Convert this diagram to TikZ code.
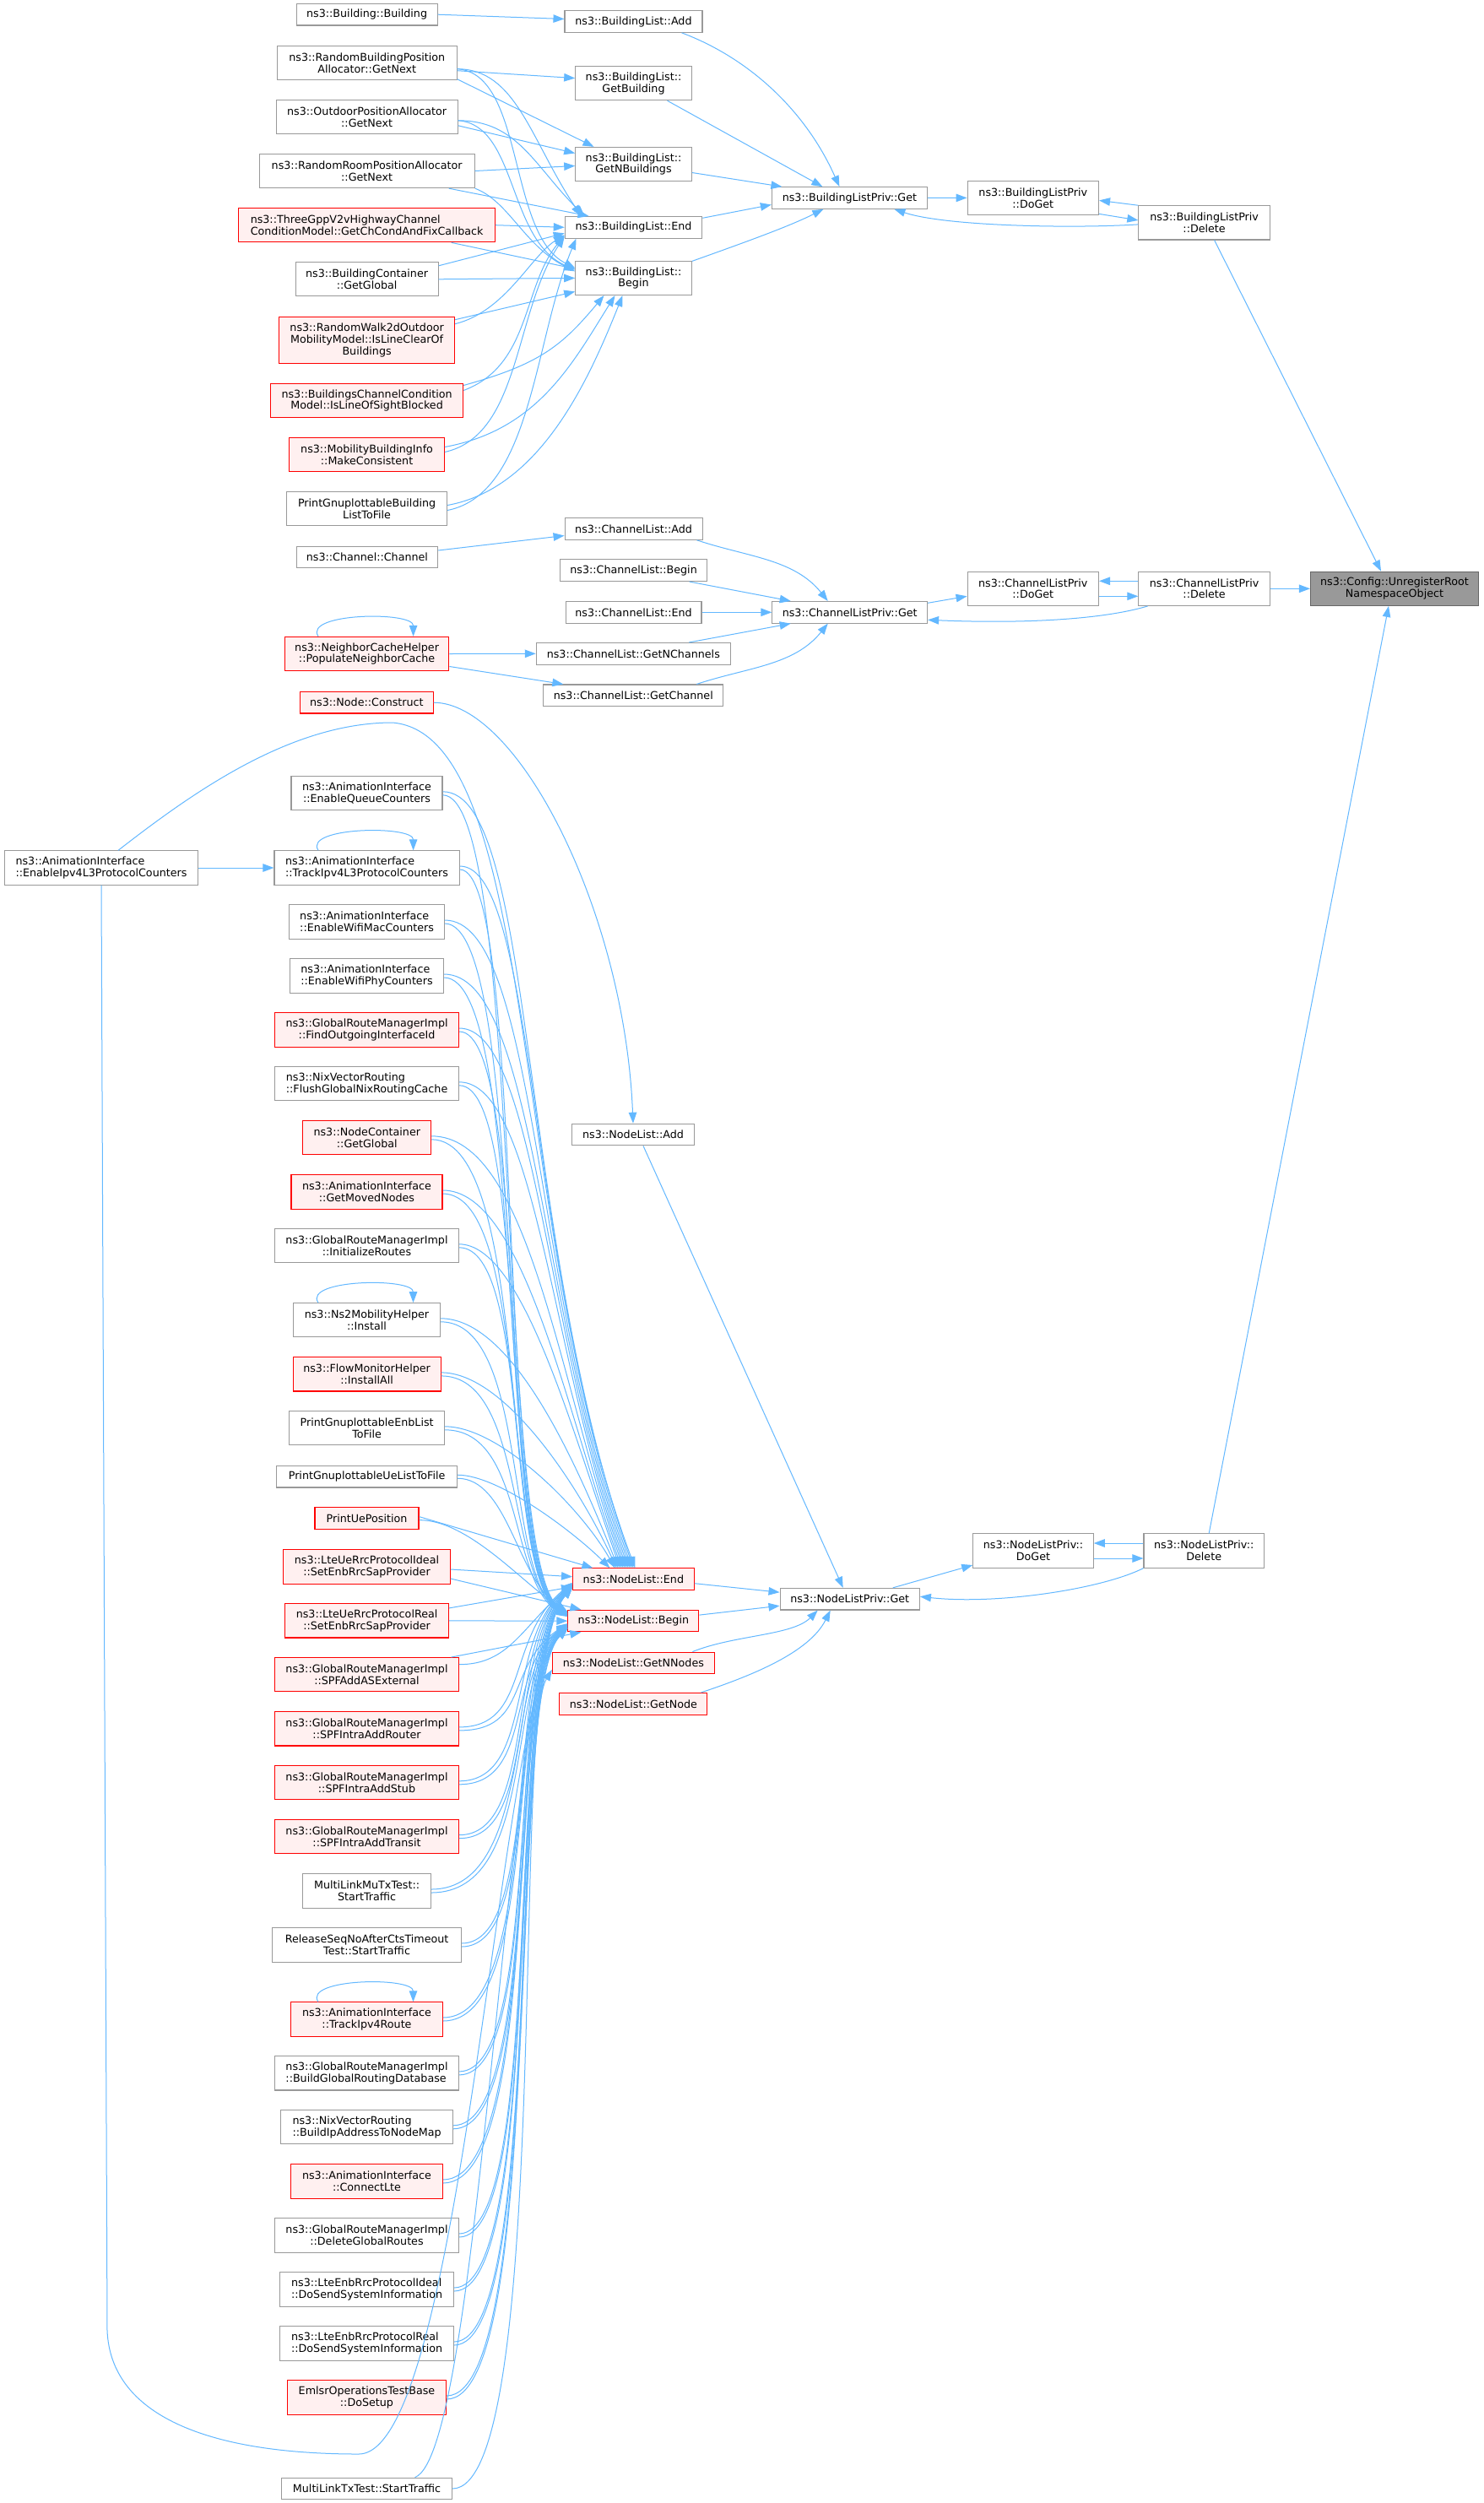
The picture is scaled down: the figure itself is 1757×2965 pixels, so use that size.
\documentclass[tikz,border=0pt]{standalone}
\usepackage{fontspec}
\setmainfont{DejaVu Sans}
\usetikzlibrary{arrows.meta,calc}
\definecolor{edgec}{HTML}{63B8FF}
\definecolor{nbord}{HTML}{999999}
\definecolor{rbord}{HTML}{FF0000}
\definecolor{rfill}{HTML}{FFF0F0}
\definecolor{rootfill}{HTML}{999999}
\definecolor{rootbord}{HTML}{666666}
\begin{document}
\begin{tikzpicture}[x=1pt,y=1pt,
  box/.style={draw=nbord, fill=white, line width=1.1pt, font=\fontsize{12.7pt}{13.8pt}\selectfont, inner xsep=3pt, inner ysep=1pt, align=center, text=black},
  one/.style={box, minimum height=25.6pt},
  two/.style={box, minimum height=40.2pt},
  three/.style={box, minimum height=55pt},
  rnode/.style={draw=rbord, fill=rfill},
  lft/.style={align=left},
  rootnode/.style={fill=rootfill, draw=rootbord},
  e/.style={draw=edgec, line width=1pt, -{Triangle[length=13pt,width=9.5pt]}}
]
\useasboundingbox (0,0) rectangle (1757,-2965);
\fill[white] (0,0) rectangle (1757,-2965);

% ---------------- Building part ----------------
\node[one, minimum width=167pt] (bBuilding) at (434.6,-17.2) {ns3::Building::Building};
\node[one, minimum width=163pt] (blAdd) at (750.5,-25.5) {ns3::BuildingList::Add};
\node[two, minimum width=212.5pt] (rbpa) at (434.8,-74.7) {ns3::RandomBuildingPosition\\Allocator::GetNext};
\node[two, minimum width=137.5pt] (blGetBuilding) at (750.5,-98.6) {ns3::BuildingList::\\GetBuilding};
\node[two, minimum width=215pt] (opa) at (434.6,-138.8) {ns3::OutdoorPositionAllocator\\::GetNext};
\node[two, minimum width=137.5pt] (blGetN) at (750.5,-194.5) {ns3::BuildingList::\\GetNBuildings};
\node[two, minimum width=255pt] (rrpa) at (434.6,-202.5) {ns3::RandomRoomPositionAllocator\\::GetNext};
\node[two, rnode, lft, minimum width=303.6pt] (tgpp) at (434.6,-266.7) {ns3::ThreeGppV2vHighwayChannel\\ConditionModel::GetChCondAndFixCallback};
\node[one, minimum width=162.5pt] (blEnd) at (750.5,-269.3) {ns3::BuildingList::End};
\node[two, minimum width=169pt] (bcGlobal) at (434.6,-330.8) {ns3::BuildingContainer\\::GetGlobal};
\node[two, minimum width=137.5pt] (blBegin) at (750.5,-329.4) {ns3::BuildingList::\\Begin};
\node[three, rnode, minimum width=208pt] (rw2d) at (434.6,-402.7) {ns3::RandomWalk2dOutdoor\\MobilityModel::IsLineClearOf\\Buildings};
\node[two, rnode, minimum width=228pt] (bccm) at (434.6,-474.5) {ns3::BuildingsChannelCondition\\Model::IsLineOfSightBlocked};
\node[two, rnode, minimum width=183.5pt] (mbi) at (434.6,-538.5) {ns3::MobilityBuildingInfo\\::MakeConsistent};
\node[two, minimum width=190pt] (pgb) at (434.6,-602.5) {PrintGnuplottableBuilding\\ListToFile};
\node[one, minimum width=184pt] (blpGet) at (1006.4,-234.5) {ns3::BuildingListPriv::Get};
\node[two, minimum width=155.4pt] (blpDoGet) at (1223.8,-234.4) {ns3::BuildingListPriv\\::DoGet};
\node[two, minimum width=155.5pt] (blpDelete) at (1426.6,-263.9) {ns3::BuildingListPriv\\::Delete};

% ---------------- Channel part ----------------
\node[one, minimum width=163pt] (clAdd) at (750.6,-626.5) {ns3::ChannelList::Add};
\node[one, minimum width=167.6pt] (chChannel) at (434.9,-660) {ns3::Channel::Channel};
\node[one, minimum width=174.5pt] (clBegin) at (750.6,-675.7) {ns3::ChannelList::Begin};
\node[one, minimum width=160.7pt] (clEnd) at (750.6,-725.3) {ns3::ChannelList::End};
\node[one, minimum width=183.7pt] (clpGet) at (1006.7,-725.3) {ns3::ChannelListPriv::Get};
\node[two, minimum width=155.4pt] (clpDoGet) at (1223.8,-697.3) {ns3::ChannelListPriv\\::DoGet};
\node[two, minimum width=155.5pt] (clpDelete) at (1426.6,-697.3) {ns3::ChannelListPriv\\::Delete};
\node[two, rootnode, minimum width=199pt] (root) at (1652,-697.3) {ns3::Config::UnregisterRoot\\NamespaceObject};
\node[two, rnode, minimum width=194.6pt] (nch) at (434.6,-774.5) {ns3::NeighborCacheHelper\\::PopulateNeighborCache};
\node[one, minimum width=230pt] (clGetN) at (750.3,-774.3) {ns3::ChannelList::GetNChannels};
\node[one, minimum width=213pt] (clGetCh) at (750.3,-823.8) {ns3::ChannelList::GetChannel};

% ---------------- Node part ----------------
\node[one, rnode, minimum width=157.3pt] (nodeConstruct) at (434.4,-832.2) {ns3::Node::Construct};
\node[two, minimum width=179pt] (eqc) at (434.5,-939.8) {ns3::AnimationInterface\\::EnableQueueCounters};
\node[two, lft, minimum width=228.6pt] (eipv4) at (120,-1028) {ns3::AnimationInterface\\::EnableIpv4L3ProtocolCounters};
\node[two, lft, minimum width=219.3pt] (tipv4) at (434.6,-1028) {ns3::AnimationInterface\\::TrackIpv4L3ProtocolCounters};
\node[two, lft, minimum width=183.6pt] (ewmac) at (434.6,-1092) {ns3::AnimationInterface\\::EnableWifiMacCounters};
\node[two, lft, minimum width=182pt] (ewphy) at (434.5,-1156) {ns3::AnimationInterface\\::EnableWifiPhyCounters};
\node[two, rnode, minimum width=218pt] (fogi) at (434.6,-1220) {ns3::GlobalRouteManagerImpl\\::FindOutgoingInterfaceId};
\node[two, lft, minimum width=218pt] (fgnrc) at (434.6,-1283.8) {ns3::NixVectorRouting\\::FlushGlobalNixRoutingCache};
\node[two, rnode, minimum width=151.8pt] (ncGlobal) at (434.8,-1347.8) {ns3::NodeContainer\\::GetGlobal};
\node[two, rnode, minimum width=179pt] (gmn) at (434.5,-1412) {ns3::AnimationInterface\\::GetMovedNodes};
\node[two, minimum width=217.5pt] (initR) at (434.5,-1475.8) {ns3::GlobalRouteManagerImpl\\::InitializeRoutes};
\node[two, minimum width=174pt] (ns2) at (434.5,-1563.8) {ns3::Ns2MobilityHelper\\::Install};
\node[two, rnode, minimum width=175pt] (fmh) at (434.6,-1627.9) {ns3::FlowMonitorHelper\\::InstallAll};
\node[two, minimum width=183.6pt] (pgEnb) at (434.6,-1691.8) {PrintGnuplottableEnbList\\ToFile};
\node[one, minimum width=213.6pt] (pgUe) at (434.6,-1749.2) {PrintGnuplottableUeListToFile};
\node[one, rnode, minimum width=123pt] (pue) at (434.5,-1798.6) {PrintUePosition};
\node[two, rnode, minimum width=197.5pt] (lteUeIdeal) at (434.5,-1856) {ns3::LteUeRrcProtocolIdeal\\::SetEnbRrcSapProvider};
\node[two, rnode, minimum width=193.6pt] (lteUeReal) at (434.6,-1919.9) {ns3::LteUeRrcProtocolReal\\::SetEnbRrcSapProvider};
\node[two, rnode, minimum width=217.5pt] (spfExt) at (434.5,-1983.7) {ns3::GlobalRouteManagerImpl\\::SPFAddASExternal};
\node[two, rnode, minimum width=217.5pt] (spfRouter) at (434.5,-2047.9) {ns3::GlobalRouteManagerImpl\\::SPFIntraAddRouter};
\node[two, rnode, minimum width=217.5pt] (spfStub) at (434.5,-2111.8) {ns3::GlobalRouteManagerImpl\\::SPFIntraAddStub};
\node[two, rnode, minimum width=217.5pt] (spfTransit) at (434.5,-2175.7) {ns3::GlobalRouteManagerImpl\\::SPFIntraAddTransit};
\node[two, minimum width=151.5pt] (mlmu) at (434.6,-2240) {MultiLinkMuTxTest::\\StartTraffic};
\node[two, minimum width=223.5pt] (rsn) at (434.6,-2304) {ReleaseSeqNoAfterCtsTimeout\\Test::StartTraffic};
\node[two, rnode, minimum width=179.6pt] (tipv4r) at (434.5,-2392) {ns3::AnimationInterface\\::TrackIpv4Route};
\node[two, lft, minimum width=217.5pt] (bgrd) at (434.5,-2455.9) {ns3::GlobalRouteManagerImpl\\::BuildGlobalRoutingDatabase};
\node[two, lft, minimum width=203.5pt] (bipa) at (434.6,-2519.8) {ns3::NixVectorRouting\\::BuildIpAddressToNodeMap};
\node[two, rnode, minimum width=179.6pt] (clte) at (434.5,-2584) {ns3::AnimationInterface\\::ConnectLte};
\node[two, minimum width=217.5pt] (dgr) at (434.5,-2648) {ns3::GlobalRouteManagerImpl\\::DeleteGlobalRoutes};
\node[two, lft, minimum width=205.7pt] (lteEnbIdeal) at (434.6,-2712) {ns3::LteEnbRrcProtocolIdeal\\::DoSendSystemInformation};
\node[two, lft, minimum width=205.7pt] (lteEnbReal) at (434.6,-2776) {ns3::LteEnbRrcProtocolReal\\::DoSendSystemInformation};
\node[two, rnode, minimum width=188pt] (emlsr) at (434.5,-2840) {EmlsrOperationsTestBase\\::DoSetup};
\node[one, minimum width=201.8pt] (mltx) at (434.5,-2948) {MultiLinkTxTest::StartTraffic};

\node[one, minimum width=145pt] (nlAdd) at (750,-1344) {ns3::NodeList::Add};
\node[one, rnode, minimum width=143.6pt] (nlEnd) at (750.4,-1870.7) {ns3::NodeList::End};
\node[one, rnode, minimum width=155pt] (nlBegin) at (750.4,-1920.1) {ns3::NodeList::Begin};
\node[one, rnode, minimum width=192pt] (nlGetNN) at (750.4,-1969.9) {ns3::NodeList::GetNNodes};
\node[one, rnode, minimum width=175pt] (nlGetNode) at (750.4,-2018.3) {ns3::NodeList::GetNode};
\node[one, minimum width=165.3pt] (nlpGet) at (1006.7,-1894.2) {ns3::NodeListPriv::Get};
\node[two, minimum width=142.4pt] (nlpDoGet) at (1224,-1837) {ns3::NodeListPriv::\\DoGet};
\node[two, minimum width=142.4pt] (nlpDelete) at (1426.2,-1837) {ns3::NodeListPriv::\\Delete};

\coordinate (etop) at (465,-856);
\coordinate (ebot) at (425,-2907);

% ================= Edges: building =================
\draw[e] (bBuilding.east) -- ([yshift=3pt]blAdd.west);
\draw[e] ([yshift=-9pt]rbpa.east) -- ([yshift=6pt]blGetBuilding.west);
\draw[e] ([yshift=-19pt]rbpa.east) -- ([xshift=-47pt]blGetN.north);
\draw[e] ([yshift=-7pt]rbpa.east) .. controls +(70,0) and +(-60,90) .. ([xshift=-62pt]blEnd.north);
\draw[e] ([yshift=-7pt]rbpa.east) .. controls +(80,-5) and +(-80,40) .. ([yshift=12pt]blBegin.west);
\draw[e] ([yshift=-10pt]opa.east) -- ([yshift=13pt]blGetN.west);
\draw[e] ([yshift=-4pt]opa.east) .. controls +(70,0) and +(-60,60) .. ([xshift=-58pt]blEnd.north);
\draw[e] ([yshift=-4pt]opa.east) .. controls +(70,-5) and +(-80,35) .. ([yshift=10pt]blBegin.west);
\draw[e] (rrpa.east) -- ([yshift=-2pt]blGetN.west);
\draw[e] ([xshift=97pt]rrpa.south) -- ([xshift=-53pt]blEnd.north);
\draw[e] (rrpa.south east) .. controls +(40,-15) and +(-60,30) .. ([yshift=8pt]blBegin.west);
\draw[e] (tgpp.east) -- (blEnd.west);
\draw[e] ([xshift=100pt]tgpp.south) -- ([yshift=11pt]blBegin.west);
\draw[e] ([yshift=16pt]bcGlobal.east) -- ([yshift=-7pt]blEnd.west);
\draw[e] (bcGlobal.east) -- (blBegin.west);
\draw[e] ([yshift=19pt]rw2d.east) .. controls +(60,15) and +(-40,-25) .. ([yshift=-9pt]blEnd.west);
\draw[e] ([yshift=24pt]rw2d.east) -- ([yshift=-16pt]blBegin.west);
\draw[e] ([yshift=12pt]bccm.east) .. controls +(80,30) and +(-50,-60) .. ([yshift=-10pt]blEnd.west);
\draw[e] ([yshift=18pt]bccm.east) .. controls +(90,25) and +(-50,-60) .. ([xshift=-35pt]blBegin.south);
\draw[e] ([yshift=3pt]mbi.east) .. controls +(90,20) and +(-60,-90) .. ([yshift=-11pt]blEnd.west);
\draw[e] ([yshift=9pt]mbi.east) .. controls +(110,20) and +(-50,-80) .. ([xshift=-22pt]blBegin.south);
\draw[e] ([yshift=-2pt]pgb.east) .. controls +(100,20) and +(-50,-120) .. ([xshift=-68pt]blEnd.south);
\draw[e] ([yshift=4pt]pgb.east) .. controls +(110,20) and +(-40,-100) .. ([xshift=-13pt]blBegin.south);

\draw[e] ([xshift=-25pt]blAdd.south east) .. controls +(80,-30) and +(-40,90) .. ([xshift=-12pt]blpGet.north);
\draw[e] ([xshift=40pt]blGetBuilding.south) -- ([xshift=-32pt]blpGet.north);
\draw[e] ([yshift=-10pt]blGetN.east) -- ([xshift=-80pt]blpGet.north);
\draw[e] ([yshift=11pt]blEnd.east) -- ([yshift=-8pt]blpGet.west);
\draw[e] ([yshift=20pt]blBegin.east) .. controls +(70,25) and +(-40,-20) .. ([xshift=-31pt]blpGet.south);
\draw[e] (blpGet.east) -- (blpDoGet.west);
\draw[e] ([yshift=-19pt]blpDoGet.east) -- ([yshift=3pt]blpDelete.west);
\draw[e] (blpDelete.north west) -- ([yshift=-3pt]blpDoGet.east);
\draw[e] ([yshift=-2pt]blpDelete.west) .. controls +(-80,-5) and +(60,-20) .. ([xshift=53pt]blpGet.south);
\draw[e] ([xshift=12pt]blpDelete.south) -- ([xshift=-16pt]root.north);

% ================= Edges: channel =================
\draw[e] ([yshift=8pt]chChannel.east) -- ([yshift=-8pt]clAdd.west);
\draw[e] ([xshift=75pt]clAdd.south) .. controls +(60,-20) and +(-40,50) .. ([xshift=-26pt]clpGet.north);
\draw[e] ([xshift=66pt]clBegin.south) -- ([xshift=-70pt]clpGet.north);
\draw[e] (clEnd.east) -- (clpGet.west);
\draw[e] ([xshift=66pt]clGetN.north) -- ([xshift=-70pt]clpGet.south);
\draw[e] ([xshift=75pt]clGetCh.north) .. controls +(60,20) and +(-40,-50) .. ([xshift=-26pt]clpGet.south);
\draw[e] ([yshift=11pt]clpGet.east) -- ([yshift=-9pt]clpDoGet.west);
\draw[e] ([yshift=-9pt]clpDoGet.east) -- ([yshift=-9pt]clpDelete.west);
\draw[e] ([yshift=9pt]clpDelete.west) -- ([yshift=9pt]clpDoGet.east);
\draw[e] ([xshift=-67pt]clpDelete.south) .. controls +(-50,-15) and +(120,-5) .. ([yshift=-9pt]clpGet.east);
\draw[e] (clpDelete.east) -- (root.west);
\draw[e] ([xshift=-57.6pt]nch.north) .. controls +(-18,28) and +(0,30) .. ([xshift=55pt]nch.north);
\draw[e] (nch.east) -- (clGetN.west);
\draw[e] ([yshift=-15pt]nch.east) -- ([xshift=-83pt]clGetCh.north);

% ================= Edges: node list priv =================
\draw[e] (nodeConstruct.east) .. controls +(100,0) and +(-10,250) .. (nlAdd.north);
\draw[e] ([xshift=12pt]nlAdd.south) -- ([xshift=-8pt]nlpGet.north);
\draw[e] ([yshift=-5pt]nlEnd.east) -- ([yshift=8pt]nlpGet.west);
\draw[e] ([yshift=7pt]nlBegin.east) -- ([yshift=-8pt]nlpGet.west);
\draw[e] ([xshift=70pt]nlGetNN.north) .. controls +(50,20) and +(-30,-30) .. ([xshift=-38pt]nlpGet.south);
\draw[e] ([xshift=80pt]nlGetNode.north) .. controls +(60,20) and +(-25,-50) .. ([xshift=-23pt]nlpGet.south);
\draw[e] ([xshift=51pt]nlpGet.north) -- ([yshift=-17pt]nlpDoGet.west);
\draw[e] ([yshift=-9pt]nlpDoGet.east) -- ([yshift=-9pt]nlpDelete.west);
\draw[e] ([yshift=9pt]nlpDelete.west) -- ([yshift=9pt]nlpDoGet.east);
\draw[e] (nlpDelete.south west) .. controls +(-50,-25) and +(90,-10) .. ([yshift=3pt]nlpGet.east);
\draw[e] ([xshift=6pt]nlpDelete.north) -- ([xshift=-7pt]root.south);

% ================= Edges: self loops, Ipv4 =================
\draw[e] ([xshift=-57.6pt]tipv4.north) .. controls +(-18,28) and +(0,30) .. ([xshift=55pt]tipv4.north);
\draw[e] ([xshift=-57.6pt]ns2.north) .. controls +(-18,28) and +(0,30) .. ([xshift=55pt]ns2.north);
\draw[e] ([xshift=-57.6pt]tipv4r.north) .. controls +(-18,28) and +(0,30) .. ([xshift=55pt]tipv4r.north);
\draw[e] (eipv4.east) -- (tipv4.west);
\draw[e] ([xshift=20pt]eipv4.north) .. controls +(90,70) and +(-120,0) .. (etop) .. controls +(175,-15) and +(-150,400) .. ([xshift=2pt]nlEnd.north);
\draw[e] (eipv4.south) -- +(7,-1712) .. controls +(4,-100) and +(-180,0) .. (ebot) .. controls +(125,0) and +(-80,-70) .. ([yshift=-9pt]nlBegin.west);

% ================= Edges: upper callers -> NodeList::End =================
\draw[e] ([yshift=2pt]eqc.east) .. controls +(110,0) and +(-138,394) .. ([xshift=0pt]nlEnd.north);
\draw[e] ([yshift=2pt]tipv4.east) .. controls +(90,0) and +(-124,356) .. ([xshift=-2pt]nlEnd.north);
\draw[e] ([yshift=2pt]ewmac.east) .. controls +(108,0) and +(-115,329) .. ([xshift=-4pt]nlEnd.north);
\draw[e] ([yshift=2pt]ewphy.east) .. controls +(108,0) and +(-105,301) .. ([xshift=-6pt]nlEnd.north);
\draw[e] ([yshift=2pt]fogi.east) .. controls +(90,0) and +(-96,274) .. ([xshift=-8pt]nlEnd.north);
\draw[e] ([yshift=2pt]fgnrc.east) .. controls +(90,0) and +(-86,246) .. ([xshift=-10pt]nlEnd.north);
\draw[e] ([yshift=2pt]ncGlobal.east) .. controls +(115,0) and +(-76,219) .. ([xshift=-12pt]nlEnd.north);
\draw[e] ([yshift=2pt]gmn.east) .. controls +(95,0) and +(-67,191) .. ([xshift=-14pt]nlEnd.north);
\draw[e] ([yshift=2pt]initR.east) .. controls +(75,0) and +(-57,164) .. ([xshift=-16pt]nlEnd.north);
\draw[e] ([yshift=2pt]ns2.east) .. controls +(85,0) and +(-50,126) .. ([xshift=-18pt]nlEnd.north);
\draw[e] ([yshift=2pt]fmh.east) .. controls +(75,0) and +(-45,98) .. ([xshift=-20pt]nlEnd.north);
\draw[e] ([yshift=2pt]pgEnb.east) .. controls +(65,0) and +(-40,71) .. ([xshift=-22pt]nlEnd.north);
\draw[e] ([yshift=2pt]pgUe.east) .. controls +(50,0) and +(-40,40) .. ([xshift=-28pt]nlEnd.north);
\draw[e] ([yshift=2pt]pue.east) -- ([xshift=-48pt]nlEnd.north);

% ================= Edges: upper callers -> NodeList::Begin =================
\draw[e] ([yshift=-2pt]eqc.east) .. controls +(95,0) and +(-85,60) .. ([yshift=9pt]nlBegin.west);
\draw[e] ([yshift=-2pt]tipv4.east) .. controls +(78,0) and +(-85,58) .. ([yshift=9pt]nlBegin.west);
\draw[e] ([yshift=-2pt]ewmac.east) .. controls +(97,0) and +(-85,57) .. ([yshift=8pt]nlBegin.west);
\draw[e] ([yshift=-2pt]ewphy.east) .. controls +(99,0) and +(-85,55) .. ([yshift=8pt]nlBegin.west);
\draw[e] ([yshift=-2pt]fogi.east) .. controls +(83,0) and +(-82,54) .. ([yshift=8pt]nlBegin.west);
\draw[e] ([yshift=-2pt]fgnrc.east) .. controls +(84,0) and +(-82,52) .. ([yshift=7pt]nlBegin.west);
\draw[e] ([yshift=-2pt]ncGlobal.east) .. controls +(117,0) and +(-80,50) .. ([yshift=7pt]nlBegin.west);
\draw[e] ([yshift=-2pt]gmn.east) .. controls +(105,0) and +(-78,48) .. ([yshift=7pt]nlBegin.west);
\draw[e] ([yshift=-2pt]initR.east) .. controls +(85,0) and +(-75,46) .. ([yshift=6pt]nlBegin.west);
\draw[e] ([yshift=-2pt]ns2.east) .. controls +(105,0) and +(-75,44) .. ([yshift=6pt]nlBegin.west);
\draw[e] ([yshift=-2pt]fmh.east) .. controls +(100,0) and +(-72,42) .. ([yshift=6pt]nlBegin.west);
\draw[e] ([yshift=-2pt]pgEnb.east) .. controls +(95,0) and +(-70,40) .. ([yshift=5pt]nlBegin.west);
\draw[e] ([yshift=-2pt]pgUe.east) .. controls +(60,0) and +(-60,40) .. ([yshift=10pt]nlBegin.west);
\draw[e] ([yshift=-2pt]pue.east) .. controls +(60,0) and +(-50,30) .. ([yshift=11pt]nlBegin.west);

% ================= Edges: middle callers =================
\draw[e] ([yshift=-3pt]lteUeIdeal.east) -- ([yshift=3pt]nlEnd.west);
\draw[e] ([yshift=-14pt]lteUeIdeal.east) -- ([xshift=-62pt]nlBegin.north);
\draw[e] (lteUeReal.east) -- (nlBegin.west);
\draw[e] ([yshift=15pt]lteUeReal.east) -- ([yshift=-9pt]nlEnd.west);
\draw[e] ([xshift=100pt]spfExt.north) -- ([xshift=-62pt]nlBegin.south);
\draw[e] ([yshift=12pt]spfExt.east) .. controls +(60,0) and +(-60,-50) .. ([yshift=-6pt]nlEnd.west);

% ================= Edges: lower callers -> NodeList::End / Begin =================
\draw[e] ([yshift=2pt]spfRouter.east) .. controls +(85,0) and +(-80,-65) .. ([yshift=-4pt]nlEnd.west);
\draw[e] ([yshift=-2pt]spfRouter.east) .. controls +(85,0) and +(-75,-50) .. ([yshift=-3pt]nlBegin.west);
\draw[e] ([yshift=2pt]spfStub.east) .. controls +(90,0) and +(-80,-67) .. ([yshift=-5pt]nlEnd.west);
\draw[e] ([yshift=-2pt]spfStub.east) .. controls +(90,0) and +(-75,-52) .. ([yshift=-4pt]nlBegin.west);
\draw[e] ([yshift=2pt]spfTransit.east) .. controls +(92,0) and +(-80,-69) .. ([yshift=-5pt]nlEnd.west);
\draw[e] ([yshift=-2pt]spfTransit.east) .. controls +(92,0) and +(-75,-54) .. ([yshift=-4pt]nlBegin.west);
\draw[e] ([yshift=2pt]mlmu.east) .. controls +(128,0) and +(-80,-71) .. ([yshift=-6pt]nlEnd.west);
\draw[e] ([yshift=-2pt]mlmu.east) .. controls +(128,0) and +(-75,-56) .. ([yshift=-5pt]nlBegin.west);
\draw[e] ([yshift=2pt]rsn.east) .. controls +(96,0) and +(-80,-73) .. ([yshift=-6pt]nlEnd.west);
\draw[e] ([yshift=-2pt]rsn.east) .. controls +(96,0) and +(-75,-58) .. ([yshift=-5pt]nlBegin.west);
\draw[e] ([yshift=2pt]tipv4r.east) .. controls +(118,0) and +(-80,-75) .. ([yshift=-7pt]nlEnd.west);
\draw[e] ([yshift=-2pt]tipv4r.east) .. controls +(118,0) and +(-75,-60) .. ([yshift=-6pt]nlBegin.west);
\draw[e] ([yshift=2pt]bgrd.east) .. controls +(100,0) and +(-80,-77) .. ([yshift=-7pt]nlEnd.west);
\draw[e] ([yshift=-2pt]bgrd.east) .. controls +(100,0) and +(-75,-62) .. ([yshift=-6pt]nlBegin.west);
\draw[e] ([yshift=2pt]bipa.east) .. controls +(108,0) and +(-80,-79) .. ([yshift=-8pt]nlEnd.west);
\draw[e] ([yshift=-2pt]bipa.east) .. controls +(108,0) and +(-75,-64) .. ([yshift=-7pt]nlBegin.west);
\draw[e] ([yshift=2pt]clte.east) .. controls +(120,0) and +(-80,-81) .. ([yshift=-8pt]nlEnd.west);
\draw[e] ([yshift=-2pt]clte.east) .. controls +(120,0) and +(-75,-66) .. ([yshift=-7pt]nlBegin.west);
\draw[e] ([yshift=2pt]dgr.east) .. controls +(102,0) and +(-80,-83) .. ([yshift=-9pt]nlEnd.west);
\draw[e] ([yshift=-2pt]dgr.east) .. controls +(102,0) and +(-75,-68) .. ([yshift=-8pt]nlBegin.west);
\draw[e] ([yshift=2pt]lteEnbIdeal.east) .. controls +(108,0) and +(-80,-85) .. ([yshift=-9pt]nlEnd.west);
\draw[e] ([yshift=-2pt]lteEnbIdeal.east) .. controls +(108,0) and +(-75,-70) .. ([yshift=-8pt]nlBegin.west);
\draw[e] ([yshift=2pt]lteEnbReal.east) .. controls +(110,0) and +(-80,-87) .. ([yshift=-10pt]nlEnd.west);
\draw[e] ([yshift=-2pt]lteEnbReal.east) .. controls +(110,0) and +(-75,-72) .. ([yshift=-9pt]nlBegin.west);
\draw[e] ([yshift=2pt]emlsr.east) .. controls +(120,0) and +(-80,-89) .. ([yshift=-10pt]nlEnd.west);
\draw[e] ([yshift=-2pt]emlsr.east) .. controls +(120,0) and +(-75,-74) .. ([yshift=-9pt]nlBegin.west);
\draw[e] ([xshift=57pt]mltx.north) .. controls +(80,30) and +(-80,-91) .. ([yshift=-10pt]nlEnd.west);
\draw[e] (mltx.east) .. controls +(115,0) and +(-45,-75) .. ([yshift=-8pt]nlGetNN.west);

\end{tikzpicture}
\end{document}
